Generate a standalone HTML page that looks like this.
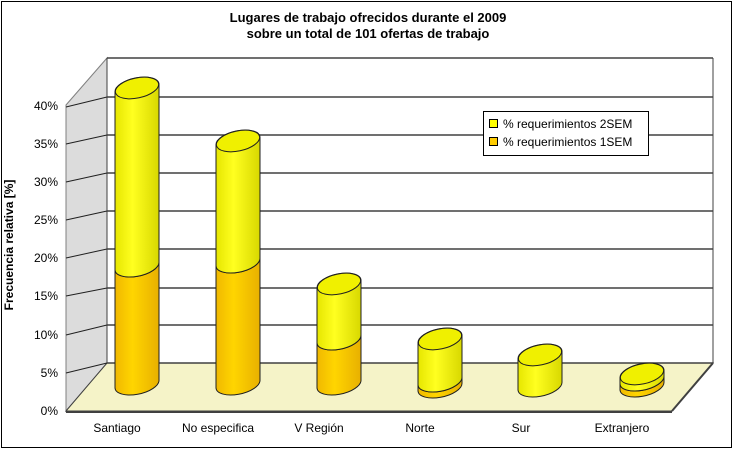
<!DOCTYPE html>
<html><head><meta charset="utf-8"><style>
html,body{margin:0;padding:0;background:#fff}
svg{display:block;font-family:"Liberation Sans",sans-serif}
</style></head><body>
<svg width="736" height="452" viewBox="0 0 736 452" xmlns="http://www.w3.org/2000/svg">
<defs>
<linearGradient id="gy" x1="0" x2="1" y1="0" y2="0">
<stop offset="0" stop-color="#e6e600"/><stop offset="0.4" stop-color="#ffff20"/><stop offset="1" stop-color="#d8d800"/>
</linearGradient>
<linearGradient id="go" x1="0" x2="1" y1="0" y2="0">
<stop offset="0" stop-color="#f0b800"/><stop offset="0.4" stop-color="#ffd500"/><stop offset="1" stop-color="#e8b000"/>
</linearGradient>
</defs>
<rect x="1.5" y="1.5" width="730" height="446" fill="#fff" stroke="#000" stroke-width="1"/>
<text x="368" y="22" text-anchor="middle" font-size="13" font-weight="bold">Lugares de trabajo ofrecidos durante el 2009</text>
<text x="368" y="38" text-anchor="middle" font-size="13" font-weight="bold">sobre un total de 101 ofertas de trabajo</text>
<polygon points="66,105 107,58 107,363 66,411" fill="#dcdcdc" stroke="#808080"/>
<polygon points="66,411 107,363 713,363 672,411" fill="#f5f3c8" stroke="#404040"/>
<line x1="66" y1="412" x2="672" y2="412" stroke="#404040" stroke-width="2"/>
<line x1="672" y1="411" x2="713" y2="363" stroke="#404040" stroke-width="2"/>
<g stroke="#404040" stroke-width="1.5">
<line x1="107" y1="58" x2="713" y2="58"/>
<line x1="107" y1="97" x2="713" y2="97"/>
<line x1="107" y1="135" x2="713" y2="135"/>
<line x1="107" y1="173" x2="713" y2="173"/>
<line x1="107" y1="211" x2="713" y2="211"/>
<line x1="107" y1="249" x2="713" y2="249"/>
<line x1="107" y1="288" x2="713" y2="288"/>
<line x1="107" y1="325" x2="713" y2="325"/>
<line x1="107" y1="363" x2="713" y2="363"/>
<line x1="713" y1="58" x2="713" y2="363" stroke-width="1"/>
<line x1="107" y1="58" x2="107" y2="363" stroke-width="1"/>
</g>
<g stroke="#202020" stroke-width="1">
<line x1="66" y1="373" x2="107" y2="363"/>
<line x1="66" y1="335" x2="107" y2="325"/>
<line x1="66" y1="296" x2="107" y2="288"/>
<line x1="66" y1="258" x2="107" y2="249"/>
<line x1="66" y1="220" x2="107" y2="211"/>
<line x1="66" y1="182" x2="107" y2="173"/>
<line x1="66" y1="144" x2="107" y2="135"/>
<line x1="66" y1="107" x2="107" y2="97"/>
</g>
<g font-size="12" text-anchor="end">
<text x="58" y="415">0%</text><text x="58" y="377">5%</text><text x="58" y="339">10%</text>
<text x="58" y="300">15%</text><text x="58" y="262">20%</text><text x="58" y="224">25%</text>
<text x="58" y="186">30%</text><text x="58" y="148">35%</text><text x="58" y="110">40%</text>
</g>
<text transform="translate(13,245) rotate(-90)" text-anchor="middle" font-size="12" font-weight="bold">Frecuencia relativa [%]</text>
<g stroke="#202020" stroke-width="1">
<path d="M115,388 L115,270 A22,10 -12 0 0 159,262 L159,380 A22,10 -12 0 1 115,388 Z" fill="url(#go)"/>
<path d="M115,270 L115,92 A22,10 -12 0 1 159,84 L159,262 A22,10 -12 0 1 115,270 Z" fill="url(#gy)"/>
<ellipse cx="137" cy="88" rx="22" ry="10" transform="rotate(-12 137 88)" fill="#f0f000"/>
<path d="M216,388 L216,266 A22,10 -12 0 0 260,258 L260,380 A22,10 -12 0 1 216,388 Z" fill="url(#go)"/>
<path d="M216,266 L216,145 A22,10 -12 0 1 260,137 L260,258 A22,10 -12 0 1 216,266 Z" fill="url(#gy)"/>
<ellipse cx="238" cy="141" rx="22" ry="10" transform="rotate(-12 238 141)" fill="#f0f000"/>
<path d="M317,388 L317,343 A22,10 -12 0 0 361,335 L361,380 A22,10 -12 0 1 317,388 Z" fill="url(#go)"/>
<path d="M317,343 L317,288 A22,10 -12 0 1 361,280 L361,335 A22,10 -12 0 1 317,343 Z" fill="url(#gy)"/>
<ellipse cx="339" cy="284" rx="22" ry="10" transform="rotate(-12 339 284)" fill="#f0f000"/>
<!-- Norte -->
<path d="M418,391 L418,385 A22,10 -12 0 0 462,377 L462,383 A22,10 -12 0 1 418,391 Z" fill="url(#go)"/>
<path d="M418,385 L418,343 A22,10 -12 0 1 462,335 L462,377 A22,10 -12 0 1 418,385 Z" fill="url(#gy)"/>
<ellipse cx="440" cy="339" rx="22" ry="10" transform="rotate(-12 440 339)" fill="#f0f000"/>
<path d="M518,390 L518,359 A22,10 -12 0 1 562,351 L562,382 A22,10 -12 0 1 518,390 Z" fill="url(#gy)"/>
<ellipse cx="540" cy="355" rx="22" ry="10" transform="rotate(-12 540 355)" fill="#f0f000"/>
<path d="M620,390 L620,384 A22,10 -12 0 0 664,376 L664,382 A22,10 -12 0 1 620,390 Z" fill="url(#go)"/>
<path d="M620,384 L620,378 A22,10 -12 0 1 664,370 L664,376 A22,10 -12 0 1 620,384 Z" fill="url(#gy)"/>
<ellipse cx="642" cy="374" rx="22" ry="10" transform="rotate(-12 642 374)" fill="#f0f000"/>
</g>
<g font-size="12" text-anchor="middle">
<text x="117" y="432">Santiago</text><text x="218" y="432">No especifica</text>
<text x="319" y="432">V Región</text><text x="420" y="432">Norte</text>
<text x="521" y="432">Sur</text><text x="622" y="432">Extranjero</text>
</g>
<rect x="483.5" y="111.5" width="165" height="44" fill="#fff" stroke="#000"/>
<rect x="489.5" y="119.5" width="8" height="8" fill="#ffff00" stroke="#000"/>
<rect x="489.5" y="137.5" width="8" height="8" fill="#ffcc00" stroke="#000"/>
<text x="503" y="128" font-size="12">% requerimientos 2SEM</text>
<text x="503" y="146" font-size="12">% requerimientos 1SEM</text>
</svg>
</body></html>
